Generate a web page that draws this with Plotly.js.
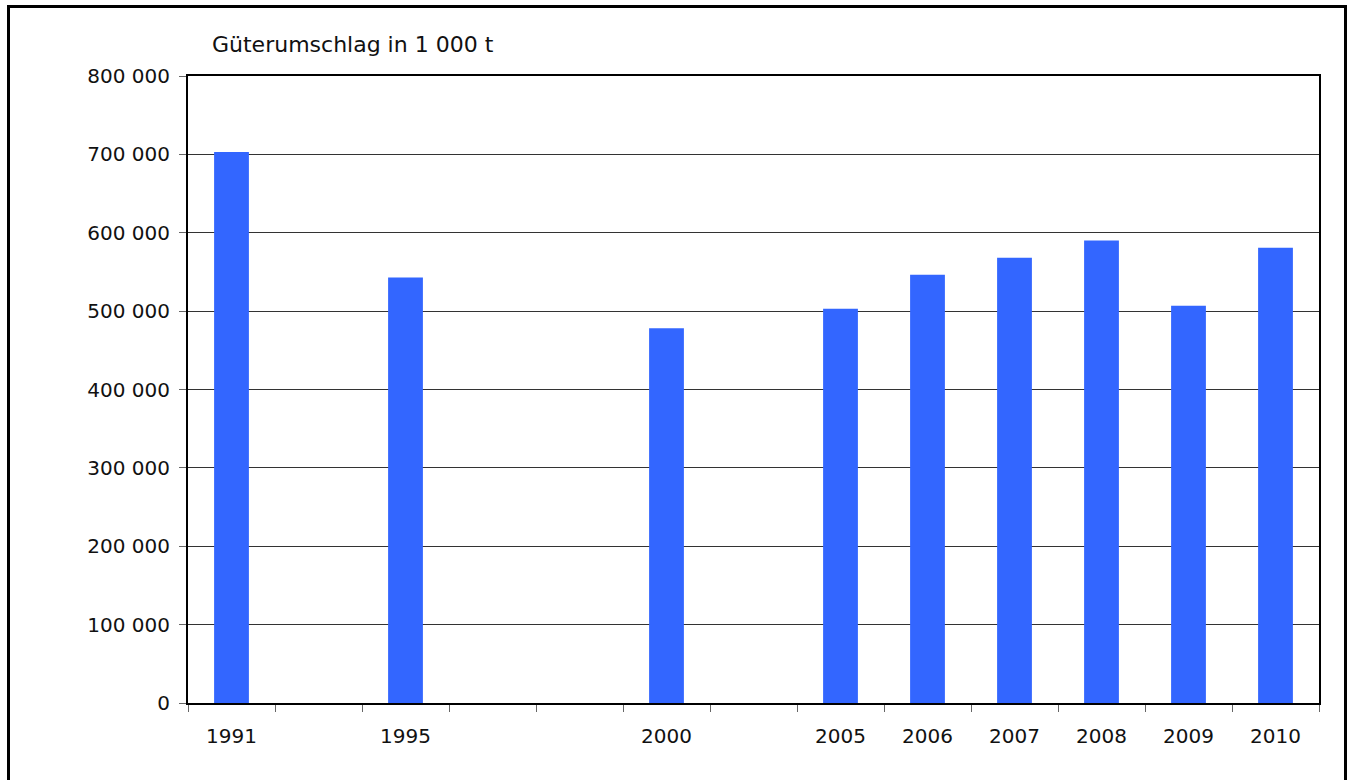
<!DOCTYPE html>
<html>
<head>
<meta charset="utf-8">
<script src="https://cdn.plot.ly/plotly-3.0.1.min.js"></script>
<style>
html,body{margin:0;padding:0;background:#fff;}
#chart{width:1350px;height:780px;}
</style>
</head>
<body>
<div id="chart"></div>
<script>
// Categories (blank slots keep the year spacing of the original)
var categories = ["1991", " ", "1995", "  ", "   ", "2000", "    ", "2005", "2006", "2007", "2008", "2009", "2010"];
var values = [703000, null, 543000, null, null, 478000, null, 503000, 546500, 568000, 590000, 507000, 581000];
var yTickVals = [0, 100000, 200000, 300000, 400000, 500000, 600000, 700000, 800000];
var titleText = "Güterumschlag in 1 000 t";

var FONT = "DejaVu Sans, sans-serif";
var FS = 20;

var trace = {
  type: "bar",
  x: categories,
  y: values,
  width: 0.4,
  marker: {color: "#3366FF", line: {width: 0}},
  hoverinfo: "x+y"
};

var layout = {
  width: 1350,
  height: 780,
  margin: {l: 188, r: 31, t: 76, b: 77, pad: 0},
  paper_bgcolor: "#ffffff",
  plot_bgcolor: "#ffffff",
  separators: ", ",
  showlegend: false,
  font: {family: FONT, size: FS, color: "#111"},
  title: {
    text: titleText,
    font: {family: FONT, size: 22, color: "#111"},
    x: 212 / 1350, xanchor: "left", xref: "container",
    y: 1 - 44 / 780, yanchor: "middle", yref: "container"
  },
  xaxis: {
    type: "category",
    categoryorder: "array",
    categoryarray: categories,
    tickson: "boundaries",
    ticks: "outside",
    ticklen: 7,
    tickwidth: 1,
    tickcolor: "#666",
    showline: true,
    linecolor: "#000",
    linewidth: 2,
    mirror: true,
    showgrid: false,
    ticklabelstandoff: 14,
    tickfont: {family: FONT, size: FS, color: "#111"},
    fixedrange: true
  },
  yaxis: {
    range: [0, 800000],
    tickmode: "array",
    tickvals: yTickVals,
    tickformat: ",d",
    ticks: "outside",
    ticklen: 7,
    tickwidth: 1,
    tickcolor: "#666",
    showline: true,
    linecolor: "#000",
    linewidth: 2,
    mirror: true,
    showgrid: true,
    gridcolor: "#333",
    gridwidth: 1,
    zeroline: false,
    ticklabelstandoff: 5,
    tickfont: {family: FONT, size: FS, color: "#111"},
    fixedrange: true
  },
  shapes: [{
    type: "rect",
    xref: "paper", yref: "paper",
    x0: (8.5 - 188) / 1131, x1: (1345.5 - 188) / 1131,
    y0: (703 - 800) / 627, y1: (703 - 6.5) / 627,
    line: {color: "#000", width: 3},
    fillcolor: "rgba(0,0,0,0)",
    layer: "below"
  }]
};

Plotly.newPlot("chart", [trace], layout, {displayModeBar: false, staticPlot: true});
</script>
</body>
</html>
